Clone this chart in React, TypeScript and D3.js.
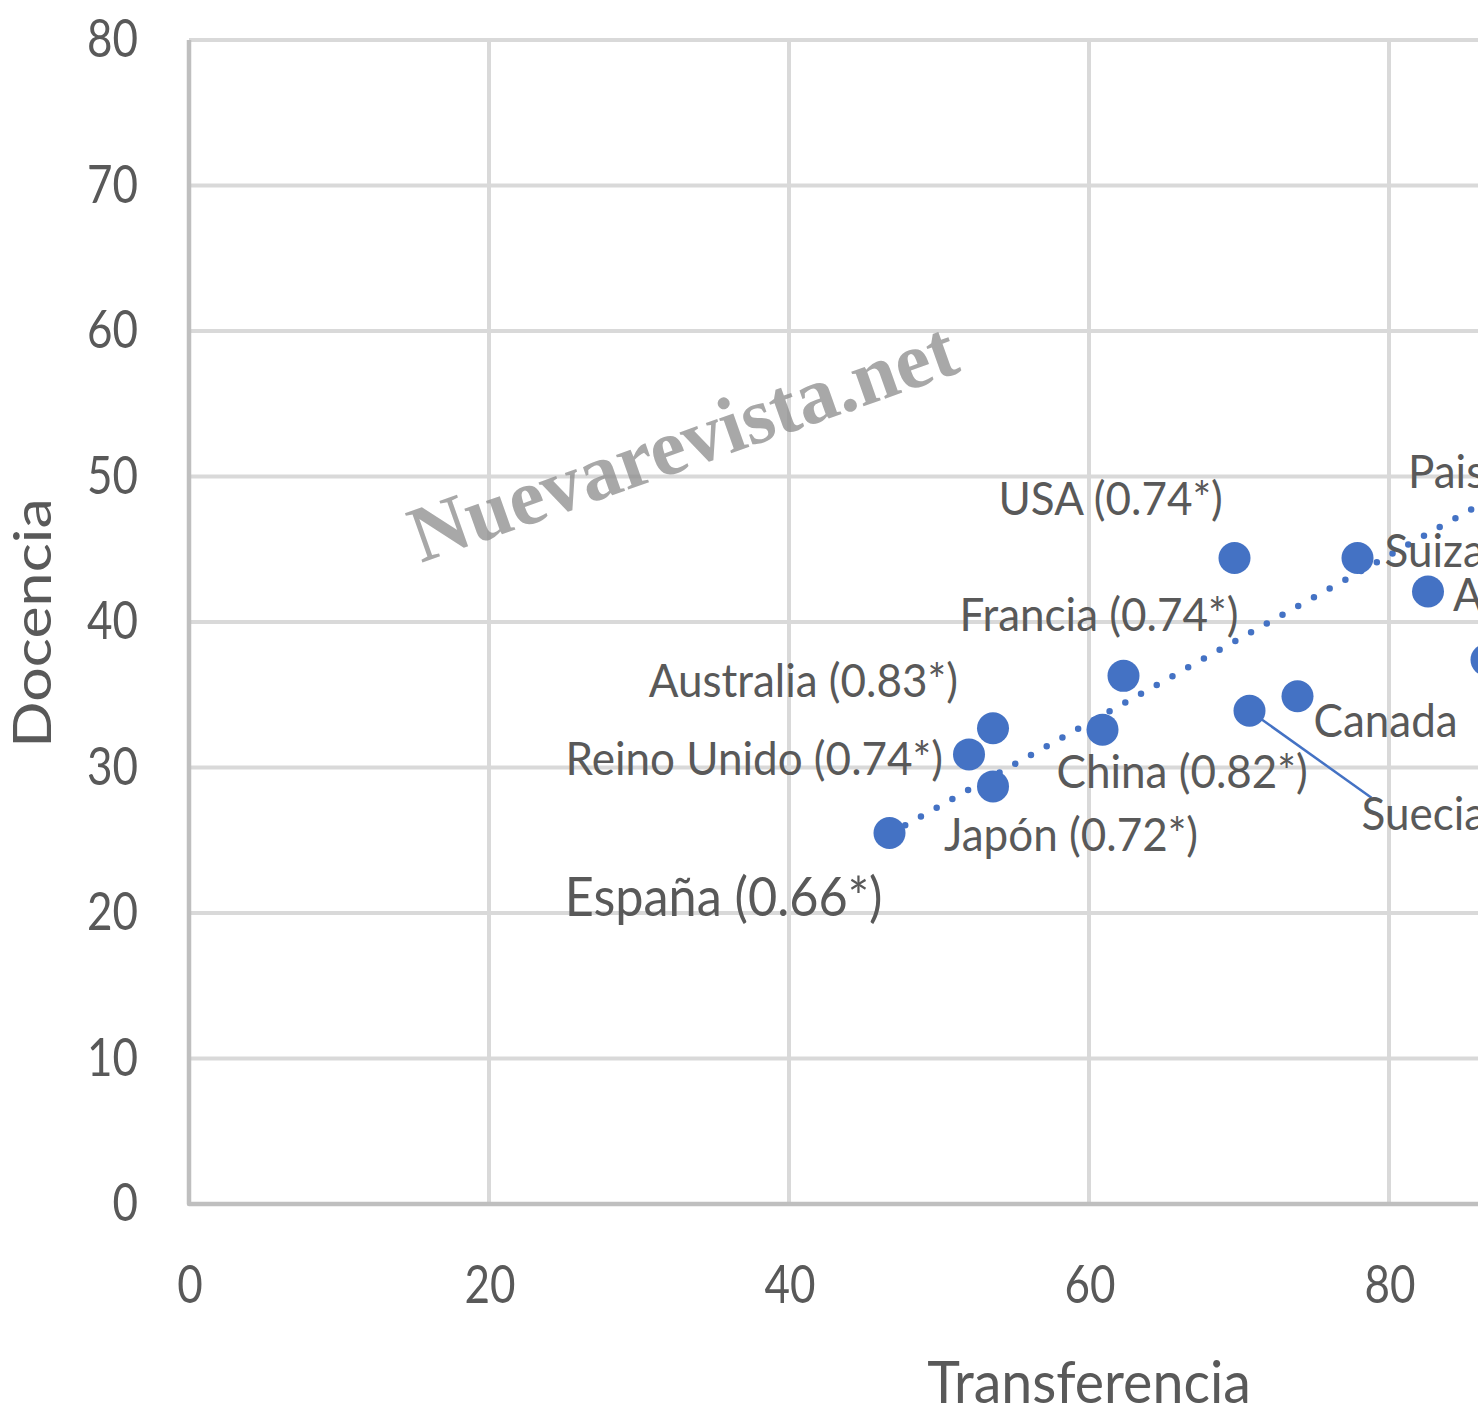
import React, { useEffect, useRef } from 'react'
import * as d3 from 'd3'

// paises, valores
const countries = ['España', 'Reino Unido', 'Australia', 'Japón', 'China', 'Francia', 'USA', 'Suecia', 'Canada', 'Suiza', 'Alemania', '', 'Paises Bajos']
const transferencia = [46.7, 52.0, 53.6, 53.6, 60.9, 62.3, 69.7, 70.7, 73.9, 77.9, 82.6, 86.5, 88.8]
const docencia = [25.5, 30.9, 32.7, 28.7, 32.6, 36.3, 44.4, 33.9, 34.9, 44.4, 42.1, 37.4, 47.6]
const correlations = ['0.66*', '0.74*', '0.83*', '0.72*', '0.82*', '0.74*', '0.74*', '', '', '', '', '', '']

const xTicks = [0, 20, 40, 60, 80, 100]
const yTicks = [0, 10, 20, 30, 40, 50, 60, 70, 80]

// linea de tendencia (lineal)
const trendSlope = 0.575
const trendIntercept = -1.42
const trendRange = [46.7, 96]

export default function App() {
    const ref = useRef<HTMLDivElement>(null)

    useEffect(() => {
        const container = d3.select(ref.current)
        container.selectAll('*').remove()

        const W = 1478, H = 1408
        const grey = '#595959'
        const blue = '#4472C4'
        const font = 'Lato, sans-serif'

        const x = d3.scaleLinear().domain([0, 100]).range([189, 1689])
        const y = d3.scaleLinear().domain([0, 80]).range([1204, 40])

        const svg = container.append('svg')
            .attr('width', W)
            .attr('height', H)
            .style('display', 'block')
            .style('background', '#fff')

        // the original is stretched, so every text gets its own vertical scale
        const txt = (g: any, s: string, tx: number, ty: number, size: number, vs: number, anchor: string, rot = 0) => {
            g.append('text')
                .attr('transform', 'translate(' + tx + ',' + ty + ') rotate(' + rot + ') scale(1,' + vs + ')')
                .attr('text-anchor', anchor)
                .style('font-family', font)
                .style('font-size', size + 'px')
                .style('fill', grey)
                .text(s)
        }

        // grid
        const grid = svg.append('g')
        yTicks.filter(d => d > 0).forEach(d => {
            grid.append('line')
                .attr('x1', x(0)).attr('x2', x(100))
                .attr('y1', y(d)).attr('y2', y(d))
                .attr('stroke', '#d9d9d9').attr('stroke-width', 4)
        })
        xTicks.filter(d => d > 0).forEach(d => {
            grid.append('line')
                .attr('x1', x(d)).attr('x2', x(d))
                .attr('y1', y(0)).attr('y2', y(80))
                .attr('stroke', '#d9d9d9').attr('stroke-width', 4)
        })
        grid.append('path')
            .attr('d', 'M' + x(0) + ',' + y(80) + 'V' + y(0) + 'H' + x(100))
            .attr('fill', 'none')
            .attr('stroke', '#bfbfbf')
            .attr('stroke-width', 4.5)
            .attr('stroke-linejoin', 'round')

        // tick labels
        yTicks.forEach(d => txt(svg, String(d), 138, y(d) + 17, 44, 1.2, 'end'))
        xTicks.forEach(d => txt(svg, String(d), x(d) + 1, 1303, 44, 1.2, 'middle'))

        // axis titles
        txt(svg, 'Transferencia', 1089, 1403, 55.5, 1.03, 'middle')
        txt(svg, 'Docencia', 51, 623, 61, 0.85, 'middle', -90)

        // watermark
        svg.append('text')
            .attr('transform', 'translate(421,563) rotate(-19.5)')
            .style('font-family', '"Liberation Serif", serif')
            .style('font-weight', 'bold')
            .style('font-size', '80px')
            .style('fill', '#8c8c8c')
            .style('opacity', 0.75)
            .text('Nuevarevista.net')

        // trend line
        const line = d3.line<number>().x(d => x(d)).y(d => y(trendSlope * d + trendIntercept))
        svg.append('path')
            .attr('d', line(trendRange))
            .attr('fill', 'none')
            .attr('stroke', blue)
            .attr('stroke-width', 6.5)
            .attr('stroke-linecap', 'round')
            .attr('stroke-dasharray', '0 18')

        // label layout: dx, dy from point, anchor, size, vertical scale
        const layout: [number, number, string, number, number][] = [
            [-7, 83, 'end', 50.4, 1.08],
            [-26, 21, 'end', 44, 1.05],
            [-35, -31, 'end', 44, 1.05],
            [-49, 65, 'start', 44, 1.05],
            [-46, 58, 'start', 44, 1.05],
            [-164, -45, 'start', 44, 1.05],
            [-236, -43, 'start', 44, 1.05],
            [112, 119, 'start', 44, 1.05],
            [16, 41, 'start', 44, 1.05],
            [27, 9, 'start', 44, 1.05],
            [25, 20, 'start', 44, 1.05],
            [0, 0, 'start', 44, 1.05],
            [-113, -23, 'start', 44, 1.05],
        ]

        // leader line Suecia
        const si = countries.indexOf('Suecia')
        svg.append('line')
            .attr('x1', x(transferencia[si])).attr('y1', y(docencia[si]))
            .attr('x2', x(transferencia[si]) + 122).attr('y2', y(docencia[si]) + 87)
            .attr('stroke', blue).attr('stroke-width', 2.5)

        countries.forEach((c, i) => {
            svg.append('circle')
                .attr('cx', x(transferencia[i]))
                .attr('cy', y(docencia[i]))
                .attr('r', 16)
                .attr('fill', blue)
        })

        countries.forEach((c, i) => {
            if (!c) return
            const [dx, dy, anchor, size, vs] = layout[i]
            const label = correlations[i] ? c + ' (' + correlations[i] + ')' : c
            txt(svg, label, x(transferencia[i]) + dx, y(docencia[i]) + dy, size, vs, anchor)
        })
    }, [])

    return (
        <div style={{ position: 'absolute', left: 0, top: 0, width: 1478, height: 1408, overflow: 'hidden' }}>
            <div ref={ref} />
        </div>
    )
}
